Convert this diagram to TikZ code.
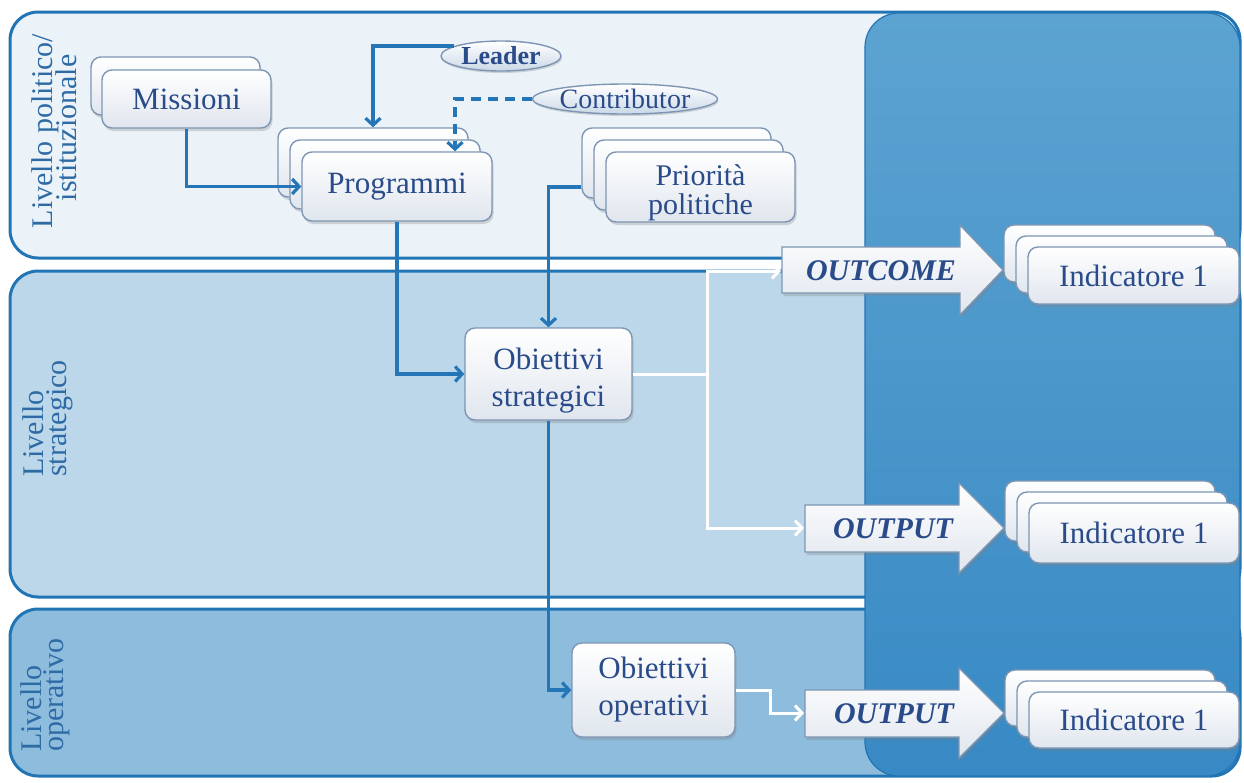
\documentclass[tikz,border=0pt]{standalone}
\usepackage{fontspec}
\setmainfont{LiberationSerif}[Extension=.ttf,UprightFont=*-Regular,BoldFont=*-Bold,ItalicFont=*-Italic,BoldItalicFont=*-BoldItalic]
\usetikzlibrary{arrows.meta,shadows,shapes.geometric}
\definecolor{bandA}{HTML}{EBF3F9}
\definecolor{bandB}{HTML}{BCD7EA}
\definecolor{bandC}{HTML}{8EBCDD}
\definecolor{bandline}{HTML}{2175B5}
\definecolor{panelTop}{HTML}{5CA3D1}
\definecolor{panelBot}{HTML}{3889C4}
\definecolor{connc}{HTML}{2476B7}
\definecolor{boxline}{HTML}{7E96B3}
\definecolor{boxbot}{HTML}{E0E6EE}
\definecolor{ellbot}{HTML}{CBD8E8}
\definecolor{txt}{HTML}{2A4B8A}
\definecolor{lbl}{HTML}{2E6BA5}
\begin{document}
\begin{tikzpicture}[x=1pt,y=-1pt,
  band/.style={draw=bandline,line width=3pt,rounded corners=28pt},
  card/.style={draw=boxline,line width=1.4pt,rounded corners=10pt,top color=white,bottom color=boxbot,
    drop shadow={shadow xshift=1.5pt,shadow yshift=-3pt,opacity=0.3},
    inner sep=0pt,text=txt,font=\fontsize{31}{37}\selectfont,align=center},
  ell/.style={ellipse,draw=boxline,line width=1.4pt,top color=white,bottom color=ellbot,
    drop shadow={shadow xshift=1pt,shadow yshift=-2pt,opacity=0.3},inner sep=0pt,text=txt},
  conn/.style={draw=connc,line width=3.2pt,-{Straight Barb[length=7pt,width=15pt]}},
  wconn/.style={draw=white,line width=3pt,-{Straight Barb[length=7pt,width=15pt]}},
  blk/.style={draw=boxline,line width=1.4pt,top color=white,bottom color=boxbot,
    drop shadow={shadow xshift=1.5pt,shadow yshift=-3pt,opacity=0.3}},
  blktxt/.style={text=txt,inner sep=0pt,font=\fontsize{30}{30}\selectfont\bfseries\itshape},
  lvl/.style={text=lbl,font=\fontsize{30}{30}\selectfont,rotate=90,inner sep=0pt},
]
\useasboundingbox (0,0) rectangle (1244,782);
\fill[white] (0,0) rectangle (1244,782);
% bands
\path[band,fill=bandA] (10,12) rectangle (1240,258);
\path[band,fill=bandB] (10,271) rectangle (1240,597);
\path[band,fill=bandC] (10,609) rectangle (1240,776);
% right panel
\path[draw=bandline,line width=1.2pt,rounded corners=34pt,top color=panelTop,bottom color=panelBot] (865,13) rectangle (1240,776);
% level labels
\node[lvl,anchor=base] (l1a) at (52,131) {Livello politico/};
\node[lvl,anchor=base] (l1b) at (76,128) {istituzionale};
\node[lvl,anchor=base west] (l2a) at (43,477) {Livello};
\node[lvl,anchor=base west] (l2b) at (66,477) {strategico};
\node[lvl,anchor=base west] (l3a) at (41,752) {Livello};
\node[lvl,anchor=base west] (l3b) at (63,752) {operativo};
% Missioni
\node[card,minimum width=169pt,minimum height=58pt] (misB) at (175.5,86) {};
\node[card,minimum width=169pt,minimum height=58pt] (mis) at (186.5,99) {Missioni};
% Programmi
\node[card,minimum width=190pt,minimum height=69pt] (progC) at (373,162.5) {};
\node[card,minimum width=190pt,minimum height=69pt] (progB) at (385,174.5) {};
\node[card,minimum width=190pt,minimum height=69pt] (prog) at (397,186.5) {Programmi};
% Priorita
\node[card,minimum width=189pt,minimum height=70pt] (prioC) at (676.5,163) {};
\node[card,minimum width=189pt,minimum height=70pt] (prioB) at (688.5,175) {};
\node[card,minimum width=189pt,minimum height=70pt,text height=62pt,font=\fontsize{30}{29}\selectfont] (prio) at (700.5,187) {Priorità\\politiche};
% Objectives
\node[card,minimum width=167pt,minimum height=92pt,text height=72pt] (obs) at (548.5,374) {Obiettivi\\strategici};
\node[card,minimum width=163pt,minimum height=94pt] (obo) at (653.5,690) {Obiettivi\\operativi};
% ellipses
\node[ell,minimum width=120pt,minimum height=30pt,font=\fontsize{26}{26}\selectfont\bfseries] (leader) at (501,56) {Leader};
\node[ell,minimum width=151pt,minimum height=30pt,font=\fontsize{28}{28}\selectfont] (contrib) at (625,99) {Contributor};
% block arrows
\path[blk] (782,247) -- (960,247) -- (960,225) -- (1003,270) -- (960,315) -- (960,293) -- (782,293) -- cycle;
\node[blktxt] (outc) at (881,271) {OUTCOME};
\coordinate (ocIn) at (781,271);
\path[blk] (805,505) -- (959,505) -- (959,483) -- (1004,528) -- (959,573) -- (959,552) -- (805,552) -- cycle;
\node[blktxt] (outp1) at (893,529) {OUTPUT};
\coordinate (op1In) at (804,528);
\path[blk] (805,690) -- (959,690) -- (959,668) -- (1004,713) -- (959,758) -- (959,737) -- (805,737) -- cycle;
\node[blktxt] (outp2) at (894,714) {OUTPUT};
\coordinate (op2In) at (804,713);
% Indicatori
\node[card,minimum width=211pt,minimum height=57pt] (indAc) at (1109.5,253.5) {};
\node[card,minimum width=211pt,minimum height=57pt] (indAb) at (1121.5,264.5) {};
\node[card,minimum width=211pt,minimum height=57pt] (indA) at (1133.5,275.5) {Indicatore 1};
\node[card,minimum width=210pt,minimum height=60pt] (indBc) at (1110,511) {};
\node[card,minimum width=210pt,minimum height=60pt] (indBb) at (1122,522) {};
\node[card,minimum width=210pt,minimum height=60pt] (indB) at (1134,533) {Indicatore 1};
\node[card,minimum width=210pt,minimum height=56pt] (indCc) at (1110,698) {};
\node[card,minimum width=210pt,minimum height=56pt] (indCb) at (1122,709) {};
\node[card,minimum width=210pt,minimum height=56pt] (indC) at (1134,720) {Indicatore 1};
% blue connectors
\draw[conn] (mis.south) |- (prog.west);
\draw[conn] (leader.168) -| (progC.north);
\draw[conn,dash pattern=on 10pt off 7pt] (contrib.west) -| (prog.north -| 455,0);
\draw[conn] (prio.center -| prioC.west) -| (obs.north);
\draw[conn] (prog.south) |- (obs.west);
\draw[conn] (obs.south) |- (obo.west);
% white connectors
\coordinate (jn) at (707,374);
\draw[wconn] (obs.east) -- (jn) |- (ocIn);
\draw[wconn] (jn) |- (op1In);
\coordinate (jn2) at (770,690);
\draw[wconn] (obo.east) -- (jn2) |- (op2In);
\end{tikzpicture}
\end{document}
